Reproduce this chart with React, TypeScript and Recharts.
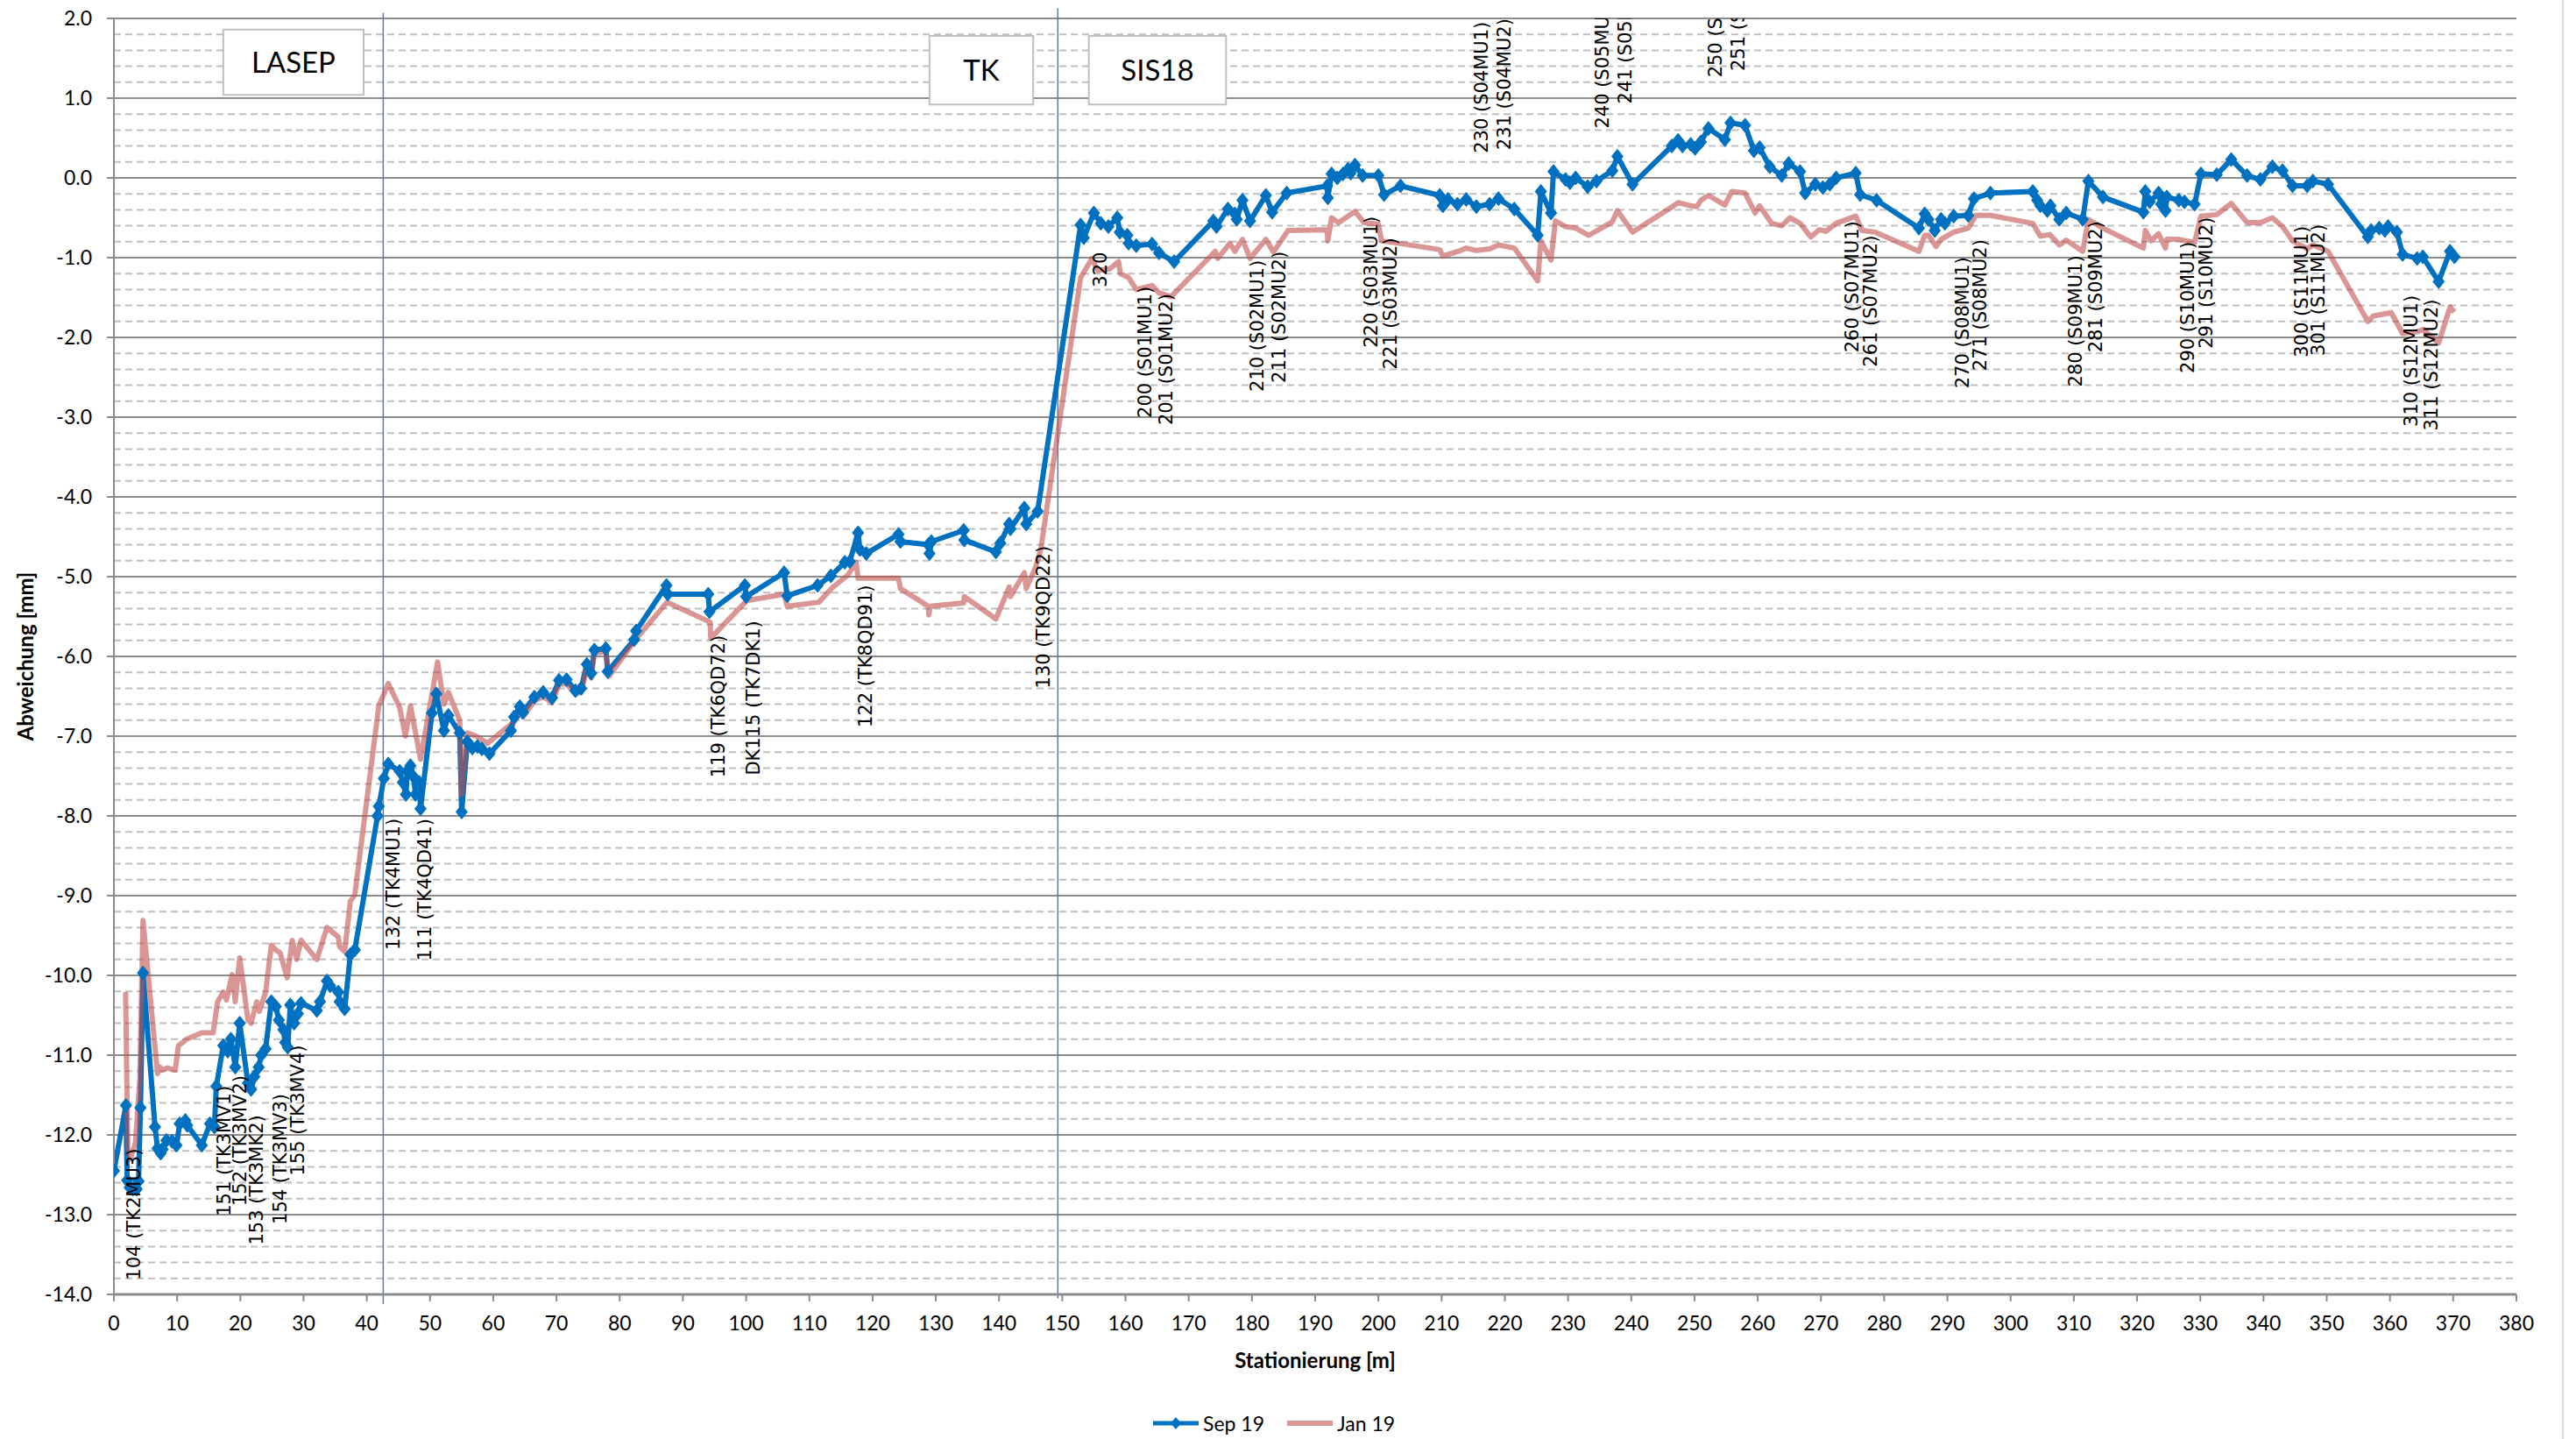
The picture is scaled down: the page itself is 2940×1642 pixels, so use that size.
import React from 'react';
import {
    CartesianGrid,
    ComposedChart,
    Line,
    ReferenceArea,
    ReferenceLine,
    Scatter,
    XAxis,
    YAxis,
} from 'recharts';

// Stationierung [m], Abweichung [mm]
const sep19: [number, number][] = [
    [0.0, -12.45], [1.9, -11.63], [2.1, -12.57], [2.5, -12.66], [3.0, -12.68], [3.6, -12.68], [3.9, -12.58],
    [4.2, -11.66], [4.6, -9.97], [6.5, -11.9], [6.9, -12.17], [7.4, -12.23], [7.7, -12.18], [8.3, -12.07],
    [9.2, -12.08], [9.9, -12.13], [10.4, -11.86], [11.3, -11.82], [11.6, -11.88], [13.9, -12.13], [15.2, -11.86],
    [15.9, -11.9], [16.2, -11.39], [17.3, -10.88], [18.0, -10.95], [18.5, -10.8], [19.2, -11.15], [19.9, -10.6],
    [21.2, -11.35], [21.7, -11.43], [22.2, -11.27], [22.9, -11.15], [23.3, -11.0], [24.0, -10.92], [24.9, -10.33],
    [25.6, -10.39], [26.1, -10.56], [26.8, -10.68], [27.1, -10.84], [27.5, -10.9], [27.9, -10.37], [28.5, -10.6],
    [29.1, -10.48], [29.6, -10.35], [32.1, -10.44], [32.6, -10.33], [33.7, -10.07], [34.2, -10.13], [35.5, -10.21],
    [35.7, -10.33], [36.5, -10.42], [37.4, -9.74], [38.1, -9.68], [41.7, -8.0], [41.9, -7.88], [42.7, -7.53],
    [43.4, -7.35], [45.2, -7.44], [45.7, -7.58], [46.2, -7.73], [46.4, -7.44], [46.9, -7.37], [47.4, -7.51],
    [47.7, -7.73], [48.3, -7.58], [48.5, -7.91], [50.3, -6.71], [51.0, -6.47], [52.2, -6.93], [52.9, -6.74],
    [54.7, -6.96], [55.0, -7.95], [55.9, -7.07], [56.7, -7.15], [57.5, -7.13], [58.2, -7.16], [59.4, -7.22],
    [62.8, -6.93], [63.3, -6.76], [64.2, -6.63], [64.7, -6.7], [66.5, -6.51], [67.9, -6.45], [69.3, -6.52],
    [70.4, -6.3], [71.6, -6.29], [73.0, -6.43], [73.9, -6.4], [74.8, -6.1], [75.5, -6.21], [76.0, -5.92],
    [77.8, -5.9], [78.1, -6.19], [82.3, -5.79], [82.6, -5.68], [87.4, -5.11], [87.6, -5.22], [94.0, -5.22],
    [94.2, -5.44], [99.8, -5.11], [100.0, -5.25], [106.0, -4.95], [106.5, -5.24], [111.3, -5.11], [113.4, -4.99],
    [115.6, -4.82], [116.4, -4.81], [117.7, -4.45], [118.0, -4.66], [119.0, -4.71], [124.1, -4.47], [124.4, -4.56],
    [128.8, -4.6], [129.0, -4.71], [129.3, -4.56], [134.4, -4.42], [134.5, -4.54], [139.5, -4.69], [140.2, -4.58],
    [141.6, -4.34], [141.8, -4.4], [144.0, -4.14], [144.3, -4.34], [146.1, -4.18], [152.9, -0.59], [153.4, -0.75],
    [155.0, -0.44], [156.1, -0.57], [157.3, -0.61], [158.7, -0.5], [159.1, -0.68], [160.3, -0.72], [160.5, -0.82],
    [161.7, -0.85], [164.2, -0.83], [165.3, -0.94], [167.7, -1.05], [173.9, -0.54], [174.4, -0.61], [176.2, -0.39],
    [177.3, -0.45], [177.6, -0.52], [178.5, -0.28], [179.7, -0.54], [182.2, -0.22], [183.2, -0.43], [185.5, -0.19],
    [191.9, -0.1], [192.0, -0.25], [192.6, 0.05], [193.5, 0.0], [194.4, 0.05], [195.2, 0.11], [195.6, 0.06],
    [196.3, 0.16], [197.5, 0.03], [200.0, 0.03], [200.9, -0.21], [203.5, -0.1], [209.7, -0.22], [210.2, -0.35],
    [211.0, -0.27], [212.5, -0.33], [213.9, -0.27], [215.5, -0.36], [217.6, -0.33], [219.0, -0.26], [221.5, -0.39],
    [225.2, -0.72], [225.7, -0.17], [227.3, -0.44], [227.7, 0.08], [229.6, -0.02], [230.3, -0.06], [231.2, 0.0],
    [233.1, -0.11], [234.5, -0.04], [237.0, 0.09], [237.8, 0.27], [240.2, -0.08], [246.4, 0.4], [247.4, 0.47],
    [248.1, 0.4], [249.4, 0.42], [250.1, 0.37], [251.0, 0.45], [252.2, 0.62], [254.8, 0.48], [255.7, 0.69],
    [258.0, 0.66], [259.4, 0.34], [260.3, 0.38], [261.9, 0.14], [263.8, 0.03], [264.9, 0.18], [266.7, 0.08],
    [267.5, -0.19], [269.1, -0.08], [270.3, -0.12], [271.4, -0.08], [272.4, 0.0], [275.5, 0.06], [276.2, -0.21],
    [278.8, -0.28], [285.5, -0.63], [286.4, -0.45], [287.0, -0.52], [288.0, -0.66], [289.0, -0.52], [289.6, -0.57],
    [291.0, -0.48], [293.3, -0.47], [294.2, -0.26], [296.8, -0.19], [303.5, -0.17], [304.2, -0.28], [304.7, -0.35],
    [305.8, -0.41], [306.3, -0.35], [307.7, -0.52], [308.8, -0.44], [311.4, -0.52], [312.3, -0.04], [314.6, -0.24],
    [321.0, -0.43], [321.3, -0.17], [322.0, -0.3], [323.4, -0.19], [323.8, -0.33], [324.5, -0.41], [324.7, -0.24],
    [326.6, -0.28], [327.5, -0.3], [329.1, -0.33], [330.1, 0.05], [332.6, 0.04], [334.9, 0.23], [337.4, 0.03],
    [339.5, -0.02], [341.4, 0.14], [343.0, 0.09], [344.6, -0.1], [346.9, -0.1], [347.8, -0.04], [350.2, -0.08],
    [356.5, -0.74], [357.0, -0.66], [358.3, -0.63], [359.2, -0.66], [359.7, -0.61], [361.1, -0.68], [362.0, -0.96],
    [364.3, -1.01], [365.2, -0.99], [367.7, -1.3], [369.5, -0.92], [370.2, -0.99],
];

const jan19: [number, number][] = [
    [1.85, -10.21], [2.2, -12.2], [2.6, -12.3], [3.4, -12.1], [4.1, -11.3], [4.6, -9.31], [6.9, -11.23],
    [7.3, -11.15], [7.6, -11.19], [8.5, -11.16], [9.7, -11.19], [10.2, -10.88], [10.9, -10.84], [11.5, -10.8],
    [13.9, -10.72], [15.7, -10.72], [16.4, -10.33], [17.3, -10.21], [17.8, -10.31], [18.7, -9.99], [19.2, -10.33],
    [19.9, -9.78], [21.2, -10.56], [21.7, -10.6], [22.6, -10.33], [23.0, -10.45], [24.0, -10.21], [24.9, -9.62],
    [25.6, -9.68], [26.3, -9.72], [27.4, -10.03], [28.2, -9.56], [28.9, -9.8], [29.6, -9.56], [32.1, -9.8],
    [33.7, -9.4], [35.5, -9.52], [35.7, -9.64], [36.5, -9.7], [37.4, -9.07], [38.1, -8.99], [41.9, -6.62],
    [43.4, -6.34], [45.2, -6.64], [46.1, -7.0], [46.9, -6.62], [48.5, -7.29], [51.2, -6.07], [52.2, -6.6],
    [52.9, -6.45], [54.7, -6.8], [55.0, -7.73], [55.9, -6.96], [57.3, -7.0], [59.1, -7.09], [63.3, -6.82],
    [64.2, -6.7], [64.7, -6.76], [66.5, -6.56], [67.9, -6.5], [69.3, -6.58], [70.4, -6.35], [71.6, -6.34],
    [73.0, -6.47], [73.9, -6.45], [74.8, -6.15], [75.5, -6.27], [76.0, -5.96], [77.8, -5.94], [78.3, -6.25],
    [82.5, -5.79], [87.5, -5.32], [94.3, -5.57], [94.4, -5.77], [100.1, -5.3], [106.0, -5.22], [106.5, -5.37],
    [111.5, -5.32], [113.6, -5.14], [116.1, -4.98], [117.4, -4.82], [117.7, -5.02], [124.1, -5.02], [124.4, -5.15],
    [128.8, -5.37], [128.9, -5.48], [129.1, -5.37], [134.4, -5.33], [134.5, -5.25], [139.5, -5.53], [141.6, -5.13],
    [141.8, -5.25], [144.0, -4.95], [144.3, -5.15], [145.8, -4.88], [146.6, -4.66], [152.9, -1.25], [154.7, -1.01],
    [155.6, -1.16], [157.5, -1.14], [158.9, -1.05], [159.2, -1.2], [160.5, -1.25], [161.7, -1.4], [164.2, -1.35],
    [165.3, -1.44], [167.2, -1.49], [174.2, -0.92], [174.6, -1.01], [176.5, -0.82], [177.3, -0.92], [178.5, -0.77],
    [179.7, -1.01], [182.2, -0.77], [183.4, -0.93], [185.7, -0.66], [191.9, -0.65], [192.0, -0.79], [192.6, -0.5],
    [193.7, -0.56], [195.2, -0.48], [196.3, -0.42], [197.7, -0.56], [200.0, -0.58], [200.5, -0.79], [203.3, -0.82],
    [209.7, -0.9], [210.2, -0.98], [212.7, -0.92], [213.9, -0.88], [215.5, -0.91], [217.6, -0.89], [219.0, -0.84],
    [221.5, -0.88], [225.2, -1.29], [225.7, -0.79], [227.3, -1.03], [228.0, -0.54], [229.6, -0.61], [231.2, -0.63],
    [233.3, -0.72], [237.0, -0.55], [237.8, -0.41], [240.2, -0.68], [246.7, -0.35], [247.4, -0.31], [249.4, -0.35],
    [250.4, -0.36], [251.0, -0.28], [252.2, -0.22], [254.8, -0.34], [255.9, -0.17], [258.0, -0.19], [259.6, -0.44],
    [260.3, -0.35], [262.2, -0.57], [263.8, -0.6], [265.1, -0.5], [266.7, -0.57], [268.4, -0.74], [269.7, -0.65],
    [270.8, -0.67], [272.4, -0.57], [275.5, -0.48], [276.5, -0.66], [278.6, -0.68], [285.5, -0.92], [286.4, -0.72],
    [287.0, -0.72], [288.2, -0.86], [289.0, -0.77], [291.0, -0.68], [293.3, -0.63], [294.5, -0.47], [296.8, -0.47],
    [303.5, -0.57], [304.7, -0.73], [306.2, -0.71], [307.7, -0.84], [308.8, -0.78], [311.4, -0.92], [312.3, -0.52],
    [314.6, -0.63], [321.0, -0.88], [321.3, -0.66], [322.2, -0.79], [323.4, -0.7], [324.5, -0.88], [324.7, -0.77],
    [326.6, -0.77], [329.1, -0.81], [330.1, -0.48], [332.6, -0.46], [334.9, -0.32], [337.4, -0.56], [339.5, -0.56],
    [341.4, -0.5], [343.0, -0.61], [344.6, -0.79], [346.9, -0.89], [347.8, -0.84], [350.2, -0.92], [356.5, -1.8],
    [357.4, -1.73], [360.2, -1.69], [362.0, -1.95], [364.3, -1.93], [365.2, -1.9], [367.7, -2.07], [369.5, -1.62],
    [370.2, -1.68],
];

// magnet names, anchored where the (rotated) text starts
const pointLabels: [number, number, string][] = [
    [3.2, -13.82, '104 (TK2MU3)'],
    [17.5, -13.02, '151 (TK3MV1)'],
    [20.0, -12.89, '152 (TK3MV2)'],
    [22.6, -13.38, '153 (TK3MK2)'],
    [26.3, -13.12, '154 (TK3MV3)'],
    [29.1, -12.51, '155 (TK3MV4)'],
    [44.2, -9.68, '132 (TK4MU1)'],
    [49.2, -9.82, '111 (TK4QD41)'],
    [95.6, -7.52, '119 (TK6QD72)'],
    [101.2, -7.49, 'DK115 (TK7DK1)'],
    [118.9, -6.89, '122 (TK8QD91)'],
    [147.1, -6.4, '130 (TK9QD22)'],
    [156.1, -1.37, '320'],
    [163.1, -3.01, '200 (S01MU1)'],
    [166.5, -3.1, '201 (S01MU2)'],
    [180.8, -2.68, '210 (S02MU1)'],
    [184.3, -2.57, '211 (S02MU2)'],
    [198.9, -2.13, '220 (S03MU1)'],
    [201.9, -2.4, '221 (S03MU2)'],
    [216.4, 0.31, '230 (S04MU1)'],
    [219.9, 0.35, '231 (S04MU2)'],
    [235.4, 0.62, '240 (S05MU1)'],
    [239.1, 0.93, '241 (S05MU2)'],
    [253.4, 1.26, '250 (S06MU1)'],
    [257.0, 1.34, '251 (S06MU2)'],
    [275.0, -2.19, '260 (S07MU1)'],
    [277.8, -2.37, '261 (S07MU2)'],
    [292.4, -2.64, '270 (S08MU1)'],
    [295.2, -2.42, '271 (S08MU2)'],
    [310.3, -2.62, '280 (S09MU1)'],
    [313.5, -2.19, '281 (S09MU2)'],
    [328.1, -2.45, '290 (S10MU1)'],
    [330.9, -2.14, '291 (S10MU2)'],
    [346.0, -2.25, '300 (S11MU1)'],
    [348.7, -2.23, '301 (S11MU2)'],
    [363.4, -3.12, '310 (S12MU1)'],
    [366.6, -3.17, '311 (S12MU2)'],
];

// section boxes: name, from, to (station)
const sections: [string, number, number][] = [
    ['LASEP', 17.3, 39.5],
    ['TK', 129.0, 145.4],
    ['SIS18', 154.2, 175.9],
];
const sectionBoxTop = [1.86, 1.78, 1.78];
const sectionBoxBottom = [1.04, 0.92, 0.92];

// section borders (station) with their top/bottom ends
const sectionLines: [number, number, number][] = [
    [42.6, 2.07, -14.12],
    [149.3, 2.13, -14.05],
];

const xTicks = [0, 10, 20, 30, 40, 50, 60, 70, 80, 90, 100, 110, 120, 130, 140, 150, 160, 170, 180, 190, 200,
    210, 220, 230, 240, 250, 260, 270, 280, 290, 300, 310, 320, 330, 340, 350, 360, 370, 380];
const yTicks = [-14, -13, -12, -11, -10, -9, -8, -7, -6, -5, -4, -3, -2, -1, 0, 1, 2];
const minorTicks: number[] = [];
for (let i = -70; i <= 10; i++) {
    if (i % 5 !== 0) minorTicks.push(i / 5);
}

const seriesNames = ['Sep 19', 'Jan 19'];
const BLUE = '#0070C0';
const RED = '#C0504D';
const FONT = 'Lato, "Open Sans", sans-serif';

const toPoints = (rows: [number, number][]) => rows.map(([x, y]) => ({ x, y }));

const Diamond = (props: any) => {
    const { cx, cy, index } = props;
    if (cx == null || cy == null) return null;
    return (
        <polygon
            key={`dia-${index}`}
            points={`${cx},${cy - 8} ${cx + 6.5},${cy} ${cx},${cy + 8} ${cx - 6.5},${cy}`}
            fill={BLUE}
            stroke={BLUE}
            strokeWidth={1}
        />
    );
};

const RotatedLabel = (props: any) => {
    const { cx, cy, payload } = props;
    if (cx == null || cy == null) return null;
    return (
        <text
            x={cx}
            y={cy}
            transform={`rotate(-90 ${cx} ${cy})`}
            textAnchor="start"
            dominantBaseline="central"
            fontFamily='"DejaVu Sans", sans-serif'
            fontSize={21}
            fill="#000"
        >
            {payload?.text}
        </text>
    );
};

const XTitle = (props: any) => {
    const vb = props.viewBox ?? { x: 130, y: 1477, width: 2742, height: 165 };
    return (
        <text x={vb.x + vb.width / 2} y={vb.y + 74} textAnchor="middle" dominantBaseline="central"
            fontFamily={FONT} fontWeight="bold" fontSize={24} fill="#000">
            Stationierung [m]
        </text>
    );
};

const YTitle = (props: any) => {
    const vb = props.viewBox ?? { x: 0, y: 21, width: 130, height: 1456 };
    const cy = vb.y + vb.height / 2;
    return (
        <text x={28} y={cy} transform={`rotate(-90 28 ${cy})`} textAnchor="middle" dominantBaseline="central"
            fontFamily={FONT} fontWeight="bold" fontSize={24} fill="#000">
            Abweichung [mm]
        </text>
    );
};

const LegendRow = () => (
    <div style={{
        position: 'absolute', left: 1316, top: 1609, display: 'flex', alignItems: 'center',
        fontFamily: FONT, fontSize: 23, color: '#000', lineHeight: '30px',
    }}>
        <svg width={52} height={20}>
            <line x1={0} y1={10} x2={52} y2={10} stroke={BLUE} strokeWidth={5} />
            <polygon points="26,3 32,10 26,17 20,10" fill={BLUE} />
        </svg>
        <span style={{ marginLeft: 5 }}>{seriesNames[0]}</span>
        <svg width={52} height={20} style={{ marginLeft: 26 }}>
            <line x1={0} y1={10} x2={52} y2={10} stroke={RED} strokeOpacity={0.6} strokeWidth={6} />
        </svg>
        <span style={{ marginLeft: 5 }}>{seriesNames[1]}</span>
    </div>
);

export default function App() {
    const sepData = toPoints(sep19);
    const janData = toPoints(jan19);
    const labelData = pointLabels.map(([x, y, text]) => ({ x, y, text }));

    return (
        <div style={{ position: 'absolute', left: 0, top: 0, width: 2940, height: 1642, background: '#fff' }}>
            <ComposedChart width={2940} height={1642} margin={{ top: 21, right: 68, bottom: 0, left: 0 }}>
                <CartesianGrid horizontalValues={minorTicks} vertical={false} stroke="#BFBFBF" strokeWidth={2}
                    strokeDasharray="8 5" />
                <CartesianGrid horizontalValues={yTicks} vertical={false} stroke="#8C8C8C" strokeWidth={2} />
                <XAxis
                    type="number"
                    dataKey="x"
                    domain={[0, 380]}
                    ticks={xTicks}
                    interval={0}
                    allowDataOverflow
                    height={165}
                    tickSize={8}
                    tickMargin={17}
                    axisLine={{ stroke: '#8C8C8C', strokeWidth: 3 }}
                    tickLine={{ stroke: '#8C8C8C', strokeWidth: 2 }}
                    tick={{ fontSize: 23, fontFamily: FONT, fill: '#000' }}
                    label={XTitle}
                />
                <YAxis
                    type="number"
                    dataKey="y"
                    domain={[-14, 2]}
                    ticks={yTicks}
                    interval={0}
                    allowDataOverflow
                    width={130}
                    tickSize={8}
                    tickMargin={17}
                    axisLine={{ stroke: '#8C8C8C', strokeWidth: 2 }}
                    tickLine={{ stroke: '#8C8C8C', strokeWidth: 2 }}
                    tick={{ fontSize: 23, fontFamily: FONT, fill: '#000' }}
                    tickFormatter={(v: number) => v.toFixed(1)}
                    label={YTitle}
                />
                {sections.map(([name, x1, x2], i) => (
                    <ReferenceArea
                        key={name}
                        x1={x1}
                        x2={x2}
                        y1={sectionBoxBottom[i]}
                        y2={sectionBoxTop[i]}
                        fill="#FFFFFF"
                        fillOpacity={1}
                        stroke="#BFBFBF"
                        strokeWidth={2}
                        ifOverflow="visible"
                        label={{ value: name, position: 'center', fontSize: 33, fontFamily: FONT, fill: '#000' }}
                    />
                ))}
                {sectionLines.map(([x, top, bottom]) => (
                    <ReferenceLine
                        key={x}
                        segment={[{ x, y: top }, { x, y: bottom }]}
                        stroke="#4A7EBB"
                        strokeWidth={1.5}
                        ifOverflow="visible"
                    />
                ))}
                <Line
                    data={sepData}
                    dataKey="y"
                    name={seriesNames[0]}
                    stroke={BLUE}
                    strokeWidth={6}
                    strokeLinejoin="round"
                    dot={Diamond}
                    activeDot={false}
                    isAnimationActive={false}
                />
                <Line
                    data={janData}
                    dataKey="y"
                    name={seriesNames[1]}
                    stroke={RED}
                    strokeOpacity={0.6}
                    strokeWidth={6}
                    strokeLinejoin="round"
                    dot={false}
                    activeDot={false}
                    isAnimationActive={false}
                />
                <Scatter data={labelData} shape={RotatedLabel} isAnimationActive={false} />
            </ComposedChart>
            <LegendRow />
            <div style={{ position: 'absolute', left: 2924, top: 0, width: 2, height: 1642, background: '#D9D9D9' }} />
        </div>
    );
}
